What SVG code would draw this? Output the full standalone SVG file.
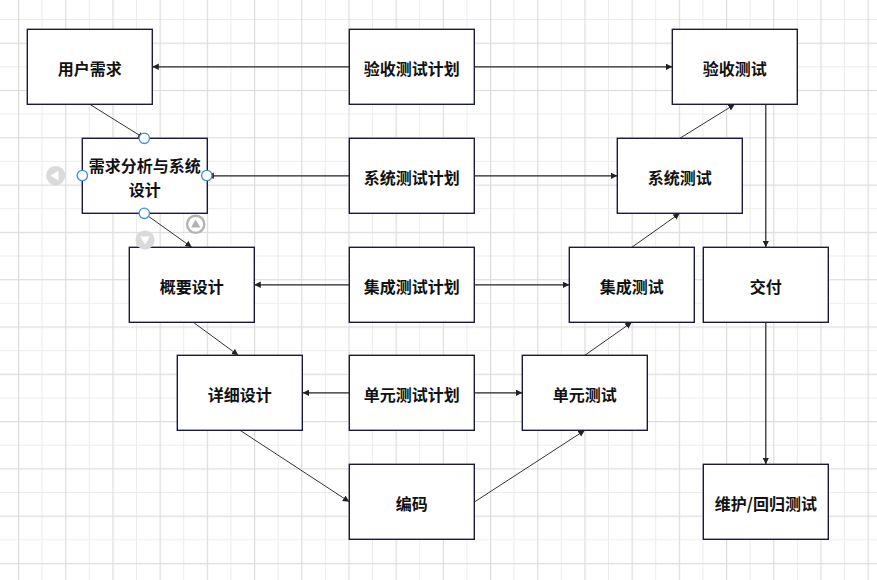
<svg xmlns="http://www.w3.org/2000/svg" width="877" height="580" viewBox="0 0 877 580">
<defs>
<pattern id="grid" patternUnits="userSpaceOnUse" x="18" y="19" width="47.2" height="47.3">
<rect x="0" y="0" width="47.2" height="1" fill="#ececec"/>
<rect x="23.6" y="0" width="1" height="47.3" fill="#ececec"/>
<rect x="0" y="23.65" width="47.2" height="1.2" fill="#dcdcdc"/>
<rect x="0" y="0" width="1.2" height="47.3" fill="#dcdcdc"/>
</pattern>
<marker id="arr" markerUnits="userSpaceOnUse" markerWidth="7" markerHeight="7" refX="6.5" refY="3.2" orient="auto">
<path d="M0,0 L6.5,3.2 L0,6.4 z" fill="#222"/>
</marker>
<style>
.box{fill:#fff;stroke:#1a1a3e;stroke-width:1.4}
.t{font-family:"Noto Sans CJK SC","Noto Sans",sans-serif;font-size:16px;font-weight:bold;fill:#111;text-anchor:middle;dominant-baseline:central}
.c{stroke:#222;stroke-width:1.2;fill:none;marker-end:url(#arr)}
.d{stroke:#333;stroke-width:1;fill:none;marker-end:url(#arr)}
.h{fill:#fff;stroke:#3c8ee8;stroke-width:1.3}
</style>
</defs>
<rect width="877" height="580" fill="#fff"/>
<rect width="877" height="580" fill="url(#grid)"/>

<g id="connectors">
<line class="c" x1="349.3" y1="66.8" x2="152.3" y2="66.8"/>
<line class="c" x1="474.7" y1="66.8" x2="672.3" y2="66.8"/>
<line class="c" x1="349.3" y1="175.8" x2="207.3" y2="175.8"/>
<line class="c" x1="474.7" y1="175.8" x2="617.3" y2="175.8"/>
<line class="c" x1="349.3" y1="284.8" x2="254.3" y2="284.8"/>
<line class="c" x1="474.7" y1="284.8" x2="569.3" y2="284.8"/>
<line class="c" x1="349.3" y1="392.8" x2="302.7" y2="392.8"/>
<line class="c" x1="474.7" y1="392.8" x2="522.3" y2="392.8"/>
<line class="d" x1="89.8" y1="104.3" x2="144.3" y2="138.3"/>
<line class="d" x1="144.3" y1="213.3" x2="191.8" y2="247.3"/>
<line class="d" x1="193.3" y1="322.3" x2="238.3" y2="355.3"/>
<line class="d" x1="240" y1="430.3" x2="349.3" y2="501.8"/>
<line class="d" x1="474.7" y1="501.8" x2="584.8" y2="430.3"/>
<line class="d" x1="584.8" y1="355.3" x2="631.8" y2="322.3"/>
<line class="d" x1="631.8" y1="247.3" x2="679.8" y2="213.3"/>
<line class="d" x1="679.8" y1="138.3" x2="734.8" y2="104.3"/>
<line class="c" x1="765.8" y1="104.3" x2="765.8" y2="247.3"/>
<line class="c" x1="765.8" y1="322.3" x2="765.8" y2="464.3"/>
</g>

<g id="n-yhxq"><rect class="box" x="27.3" y="29.3" width="125" height="75"/><text class="t" x="89.8" y="67.5">用户需求</text></g>
<g id="n-ysjh"><rect class="box" x="349.3" y="29.3" width="125" height="75"/><text class="t" x="411.8" y="67.5">验收测试计划</text></g>
<g id="n-yscs"><rect class="box" x="672.3" y="29.3" width="125" height="75"/><text class="t" x="734.8" y="67.5">验收测试</text></g>
<g id="n-xqfx"><rect class="box" x="82.3" y="138.3" width="125" height="75"/><text class="t" x="144.8" y="164.5">需求分析与系统</text><text class="t" x="144.8" y="188.5">设计</text></g>
<g id="n-xtjh"><rect class="box" x="349.3" y="138.3" width="125" height="75"/><text class="t" x="411.8" y="176.5">系统测试计划</text></g>
<g id="n-xtcs"><rect class="box" x="617.3" y="138.3" width="125" height="75"/><text class="t" x="679.8" y="176.5">系统测试</text></g>
<g id="n-gysj"><rect class="box" x="129.3" y="247.3" width="125" height="75"/><text class="t" x="191.8" y="285.5">概要设计</text></g>
<g id="n-jcjh"><rect class="box" x="349.3" y="247.3" width="125" height="75"/><text class="t" x="411.8" y="285.5">集成测试计划</text></g>
<g id="n-jccs"><rect class="box" x="569.3" y="247.3" width="125" height="75"/><text class="t" x="631.8" y="285.5">集成测试</text></g>
<g id="n-jf"><rect class="box" x="703.3" y="247.3" width="125" height="75"/><text class="t" x="765.8" y="285.5">交付</text></g>
<g id="n-xxsj"><rect class="box" x="177.3" y="355.3" width="125" height="75"/><text class="t" x="239.8" y="393.5">详细设计</text></g>
<g id="n-dyjh"><rect class="box" x="349.3" y="355.3" width="125" height="75"/><text class="t" x="411.8" y="393.5">单元测试计划</text></g>
<g id="n-dycs"><rect class="box" x="522.3" y="355.3" width="125" height="75"/><text class="t" x="584.8" y="393.5">单元测试</text></g>
<g id="n-bm"><rect class="box" x="349.3" y="464.3" width="125" height="75"/><text class="t" x="411.8" y="502.5">编码</text></g>
<g id="n-wh"><rect class="box" x="703.3" y="464.3" width="125" height="75"/><text class="t" x="765.8" y="502.5">维护/回归测试</text></g>

<g id="selection">
<circle class="h" cx="144.3" cy="138.3" r="5.2"/>
<circle class="h" cx="82.3" cy="175.5" r="5.2"/>
<circle class="h" cx="206.8" cy="175.5" r="5.2"/>
<circle class="h" cx="144.3" cy="213.3" r="5.2"/>
<circle cx="55.7" cy="175.6" r="9.6" fill="#dadada"/>
<path d="M50.5,175.6 L58.5,170.8 L58.5,180.4 z" fill="#fff"/>
<circle cx="145" cy="240" r="9.6" fill="#dadada"/>
<path d="M140.2,236.6 L149.8,236.6 L145,244.6 z" fill="#fff"/>
<circle cx="195.7" cy="224.3" r="8.6" fill="#fff" stroke="#b3b3b3" stroke-width="2.4"/>
<path d="M191,227.6 L200.4,227.6 L195.7,219.6 z" fill="#b3b3b3"/>
</g>
</svg>
